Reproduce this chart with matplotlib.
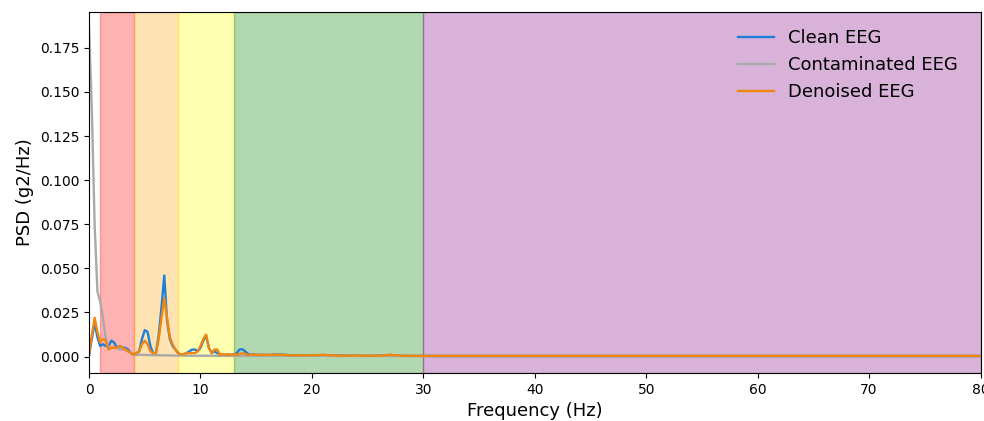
import numpy as np
import matplotlib
matplotlib.use("Agg")
import matplotlib.pyplot as plt

# frequency grid: 0.25 Hz steps up to 15 Hz, then 1 Hz steps up to 80 Hz
freqs = list(np.arange(0, 15.01, 0.25)) + list(range(16, 81))

clean_low = [0.001, 0.010, 0.019, 0.011, 0.006, 0.007, 0.006, 0.006, 0.009, 0.008,
             0.005, 0.006, 0.005, 0.005, 0.004, 0.002, 0.001, 0.002, 0.003, 0.010,
             0.015, 0.014, 0.006, 0.002, 0.002, 0.012, 0.028, 0.046, 0.020, 0.010,
             0.006, 0.004, 0.002, 0.001, 0.001, 0.002, 0.003, 0.004, 0.004, 0.003,
             0.005, 0.009, 0.012, 0.005, 0.002, 0.003, 0.002, 0.001, 0.001, 0.001,
             0.0012, 0.001, 0.001, 0.002, 0.004, 0.0042, 0.003, 0.0015, 0.001, 0.0012,
             0.001]
contam_low = [0.186, 0.140, 0.075, 0.037, 0.031, 0.022, 0.010, 0.005, 0.005, 0.005,
              0.005, 0.004, 0.004, 0.004, 0.003, 0.002, 0.0012, 0.001, 0.001, 0.001,
              0.001, 0.0009, 0.0009, 0.0008, 0.0008, 0.0008, 0.0007, 0.0007, 0.0007, 0.0007,
              0.0006, 0.0006, 0.0006, 0.0006, 0.0006, 0.0005, 0.0005, 0.0005, 0.0005, 0.0005,
              0.0005, 0.0005, 0.0005, 0.0005, 0.0005, 0.0005, 0.0004, 0.0004, 0.0004, 0.0004,
              0.0004, 0.0004, 0.0004, 0.0004, 0.0004, 0.0004, 0.0004, 0.0004, 0.0004, 0.0004,
              0.0004]
denoised_low = [0.001, 0.012, 0.022, 0.014, 0.008, 0.010, 0.009, 0.004, 0.005, 0.005,
                0.005, 0.006, 0.005, 0.004, 0.003, 0.002, 0.001, 0.002, 0.003, 0.007,
                0.009, 0.007, 0.003, 0.002, 0.002, 0.010, 0.022, 0.033, 0.022, 0.011,
                0.007, 0.004, 0.002, 0.001, 0.0015, 0.002, 0.002, 0.002, 0.002, 0.003,
                0.006, 0.010, 0.0125, 0.005, 0.002, 0.004, 0.004, 0.001, 0.0015, 0.001,
                0.0012, 0.001, 0.0015, 0.001, 0.0015, 0.002, 0.0015, 0.001, 0.0012, 0.001,
                0.001]

clean_high = [0.0009, 0.0012, 0.0008, 0.0007, 0.0006, 0.0009, 0.0006, 0.0005, 0.0005, 0.0004,
              0.0005, 0.0009, 0.0004, 0.0004, 0.0004, 0.0003, 0.0003, 0.0003, 0.0003, 0.0003,
              0.0003, 0.0003, 0.0003, 0.0003, 0.0003, 0.0003, 0.0003, 0.0003, 0.0003, 0.0003,
              0.0003, 0.0003, 0.0003, 0.0003, 0.0003, 0.0003, 0.0003, 0.0003, 0.0003, 0.0003,
              0.0003, 0.0003, 0.0003, 0.0003, 0.0003, 0.0003, 0.0003, 0.0003, 0.0003, 0.0003,
              0.0003, 0.0003, 0.0003, 0.0003, 0.0003, 0.0003, 0.0003, 0.0003, 0.0003, 0.0003,
              0.0003, 0.0003, 0.0003, 0.0003, 0.0003]
contam_high = [0.0004, 0.0004, 0.0004, 0.0004, 0.0004, 0.0004, 0.0003, 0.0003, 0.0003, 0.0003,
               0.0003, 0.0003, 0.0003, 0.0003, 0.0003, 0.0003, 0.0003, 0.0003, 0.0003, 0.0003,
               0.0003, 0.0003, 0.0003, 0.0003, 0.0003, 0.0003, 0.0003, 0.0003, 0.0003, 0.0003,
               0.0003, 0.0003, 0.0003, 0.0003, 0.0003, 0.0003, 0.0003, 0.0003, 0.0003, 0.0003,
               0.0003, 0.0003, 0.0003, 0.0003, 0.0003, 0.0003, 0.0003, 0.0003, 0.0003, 0.0003,
               0.0003, 0.0003, 0.0003, 0.0003, 0.0003, 0.0003, 0.0003, 0.0003, 0.0003, 0.0003,
               0.0003, 0.0003, 0.0003, 0.0003, 0.0003]
denoised_high = [0.0010, 0.0011, 0.0008, 0.0007, 0.0007, 0.0010, 0.0006, 0.0005, 0.0006, 0.0005,
                 0.0005, 0.0010, 0.0005, 0.0004, 0.0004, 0.0004, 0.0004, 0.0004, 0.0004, 0.0004,
                 0.0004, 0.0004, 0.0004, 0.0004, 0.0004, 0.0004, 0.0004, 0.0004, 0.0004, 0.0004,
                 0.0004, 0.0004, 0.0004, 0.0004, 0.0004, 0.0004, 0.0004, 0.0004, 0.0004, 0.0004,
                 0.0004, 0.0004, 0.0004, 0.0004, 0.0004, 0.0004, 0.0004, 0.0004, 0.0004, 0.0004,
                 0.0004, 0.0004, 0.0004, 0.0004, 0.0004, 0.0004, 0.0004, 0.0004, 0.0004, 0.0004,
                 0.0004, 0.0004, 0.0004, 0.0004, 0.0004]

clean = clean_low + clean_high
contaminated = contam_low + contam_high
denoised = denoised_low + denoised_high

# EEG bands: delta, theta, alpha, beta, gamma
band_edges = [(1, 4), (4, 8), (8, 13), (13, 30), (30, 80)]
band_colors = ["red", "orange", "yellow", "green", "purple"]

fig = plt.figure(figsize=(9.84, 4.21), dpi=100)
ax = fig.add_axes([0.0905, 0.114, 0.906, 0.8575])

for (lo, hi), c in zip(band_edges, band_colors):
    ax.axvspan(lo, hi, color=c, alpha=0.3)

ax.plot(freqs, clean, color="#1f7fd8", lw=1.7, label="Clean EEG")
ax.plot(freqs, contaminated, color="darkgray", lw=1.7, label="Contaminated EEG")
ax.plot(freqs, denoised, color="#f0860f", lw=1.7, label="Denoised EEG")

ax.set_xlim(0, 80)
ax.set_ylim(-0.0093, 0.1953)
ax.set_yticks([0, 0.025, 0.05, 0.075, 0.1, 0.125, 0.15, 0.175])
ax.set_xlabel("Frequency (Hz)", fontsize=13)
ax.set_ylabel("PSD (g2/Hz)", fontsize=13)
ax.tick_params(axis="both", labelsize=10)
ax.legend(loc="upper right", frameon=False, fontsize=13, handlelength=2.0,
          bbox_to_anchor=(0.993, 0.997))

fig.savefig("out.png", dpi=100)
